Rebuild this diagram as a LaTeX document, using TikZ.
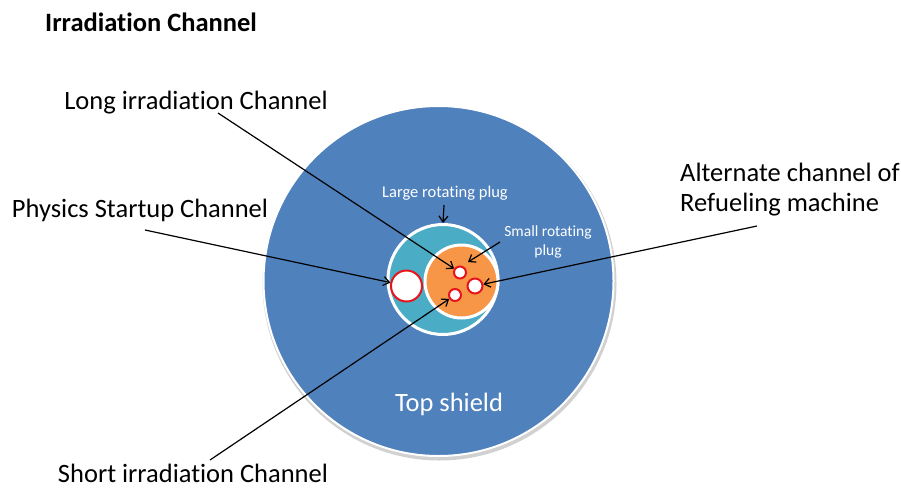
\documentclass[tikz,border=0pt]{standalone}
\usepackage{fontspec}
\setmainfont{Carlito}[Ligatures=CommonOff]
\usetikzlibrary{arrows.meta}
\definecolor{shieldblue}{HTML}{4F81BD}
\definecolor{plugteal}{HTML}{4BACC6}
\definecolor{plugorange}{HTML}{F79646}
\definecolor{chanred}{HTML}{E8141B}
\tikzset{
  disc/.style={circle,inner sep=0pt,draw=white},
  chan/.style={circle,inner sep=0pt,fill=white,draw=chanred,line width=2pt},
  lbl/.style={font=\fontsize{26.5}{30}\selectfont,inner sep=0pt},
  smalllbl/.style={font=\fontsize{16.5}{19}\selectfont,text=white,inner sep=0pt,align=center},
  pointer/.style={draw=black,line width=1.2pt,-{Straight Barb[length=6pt,width=9pt,line width=1.2pt]}}
}
\begin{document}
\begin{tikzpicture}[x=1pt,y=-1pt]
\useasboundingbox (0,0) rectangle (901,488);
% shadow of top shield
\fill[black!18] (439.5,283.5) circle (177);
\node[disc,fill=shieldblue,line width=2pt,minimum size=350pt] (shield) at (438.5,281) {};
\node[disc,fill=plugteal,line width=3pt,minimum size=110pt] (lrp) at (443,279.5) {};
\node[disc,fill=plugorange,line width=3pt,minimum size=73pt] (srp) at (461.5,281.5) {};
\node[chan,minimum size=31pt] (psc) at (406.5,286) {};
\node[chan,minimum size=12pt] (lic) at (460,272.5) {};
\node[chan,minimum size=15pt] (afc) at (475,286) {};
\node[chan,minimum size=12pt] (sic) at (455,295) {};
% texts
\node[font=\fontsize{26.5}{30}\selectfont\bfseries,anchor=west,inner sep=0pt] (title) at (45,22) {Irradiation Channel};
\node[lbl] (lictext) at (196,103) {Long irradiation Channel};
\node[lbl] (psctext) at (140,210) {Physics Startup Channel};
\node[lbl,anchor=west,align=left] (afctext) at (680,190) {Alternate channel of\\Refueling machine};
\node[lbl] (sictext) at (193,473) {Short irradiation Channel};
\node[smalllbl] (lrptext) at (445,193) {Large rotating plug};
\node[smalllbl,font=\fontsize{15.5}{19}\selectfont] (srptext) at (548,242) {Small rotating\\plug};
\node[lbl,text=white] (shieldtext) at (449,404) {Top shield};
% connectors
\coordinate (licstart) at (218,113);
\coordinate (pscstart) at (145,230);
\coordinate (lrpstart) at (444,205);
\coordinate (srpstart) at (500,242);
\coordinate (srptip) at (468,262);
\coordinate (afcstart) at (757,226);
\coordinate (sicstart) at (210,460);
\draw[pointer] (licstart) -- (lic);
\draw[pointer] (pscstart) -- (psc);
\draw[pointer] (lrpstart) -- (lrp.north);
\draw[pointer] (srpstart) -- (srptip);
\draw[pointer] (afcstart) -- (afc);
\draw[pointer] (sicstart) -- (sic);
\end{tikzpicture}
\end{document}
